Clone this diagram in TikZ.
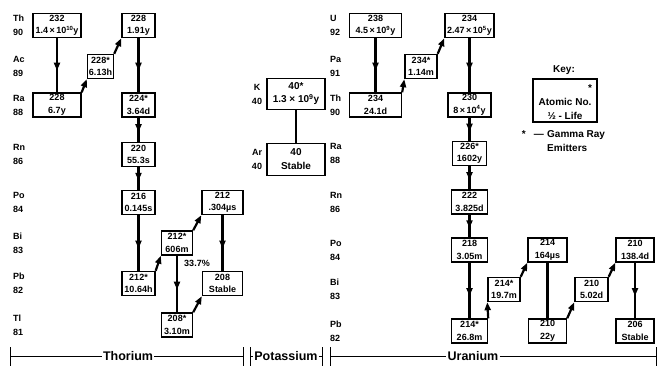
\documentclass[tikz,border=0pt]{standalone}
\usepackage{fontspec}
\setmainfont{Liberation Sans}
\usetikzlibrary{arrows.meta}
\usetikzlibrary{decorations.markings}

\tikzset{
  iso/.style={draw, line width=1.4pt, minimum height=24pt, inner xsep=1pt, inner ysep=1pt, align=center, font=\bfseries\fontsize{9}{12.5}\selectfont},
  elem/.style={anchor=west, align=left, inner sep=0pt, font=\bfseries\fontsize{9}{14}\selectfont},
  keytext/.style={inner sep=0pt, font=\bfseries\fontsize{10}{13.5}\selectfont},
  bartext/.style={inner sep=1pt, font=\bfseries\fontsize{12.5}{14}\selectfont},
  beta/.style={line width=2.2pt, -{Triangle[length=8pt,width=6pt]}},
  alpha/.style={line width=2.2pt, decoration={markings, mark=at position 0.6 with {\arrow{Triangle[length=8pt,width=6pt]}}}, postaction={decorate}},
  link/.style={line width=2.2pt},
  barline/.style={line width=1pt},
}

\begin{document}
\begin{tikzpicture}[x=1pt, y=-1pt]
    \useasboundingbox (0,0) rectangle (663,366);
    % element labels
    \foreach \y/\el/\z in {25.5/Th/90, 66.5/Ac/89, 105/Ra/88, 154.5/Rn/86, 202.5/Po/84, 243/Bi/83, 283.5/Pb/82, 325/Tl/81}
        \node[elem] (thor-\z) at (13,\y) {\el\\\z};
    \foreach \y/\el/\z in {25.5/U/92, 66.5/Pa/91, 105/Th/90, 153.5/Ra/88, 202/Rn/86, 250/Po/84, 289.5/Bi/83, 331/Pb/82}
        \node[elem] (uran-\z) at (330,\y) {\el\\\z};
    \node[elem, anchor=center, align=center] (kal) at (257,94) {K\\40};
    \node[elem, anchor=center, align=center] (arl) at (257,159.5) {Ar\\40};

    % thorium series
    \node[iso, minimum width=48pt] (th232) at (57,25.5) {232\\1.4\,×\,10\textsuperscript{10}y};
    \node[iso, minimum width=26pt] (ac228) at (100.5,66.5) {228*\\6.13h};
    \node[iso, minimum width=33pt] (th228) at (138.5,25.5) {228\\1.91y};
    \node[iso, minimum width=48pt] (ra228) at (57,105) {228\\6.7y};
    \node[iso, minimum width=33pt] (ra224) at (138.5,105) {224*\\3.64d};
    \node[iso, minimum width=33pt] (rn220) at (138.5,154.5) {220\\55.3s};
    \node[iso, minimum width=33pt] (po216) at (138.5,202.5) {216\\0.145s};
    \node[iso, minimum width=33pt] (pb212) at (138.5,283.5) {212*\\10.64h};
    \node[iso, minimum width=31pt] (bi212) at (177,243) {212*\\606m};
    \node[iso, minimum width=41pt] (po212) at (222.5,202.5) {212\\.304µs};
    \node[iso, minimum width=40pt] (pb208) at (222.5,283.5) {208\\Stable};
    \node[iso, minimum width=31pt] (tl208) at (177,325) {208*\\3.10m};
    \node[elem, anchor=center] (branch) at (197,263) {33.7\%};

    \draw[alpha] (th232) -- (ra228);
    \draw[beta] (ra228.north east) -- (ac228.south west);
    \draw[beta] (ac228.north east) -- (th228.south west);
    \draw[alpha] (th228) -- (ra224);
    \draw[alpha] (ra224) -- (rn220);
    \draw[alpha] (rn220) -- (po216);
    \draw[alpha] (po216) -- (pb212);
    \draw[beta] (pb212.north east) -- (bi212.south west);
    \draw[beta] (bi212.north east) -- (po212.south west);
    \draw[alpha] (po212) -- (pb208);
    \draw[alpha] (bi212) -- (tl208);
    \draw[beta] (tl208.north east) -- (pb208.south west);

    % potassium
    \node[iso, minimum width=58pt, minimum height=31pt, font=\bfseries\fontsize{10}{13}\selectfont] (k40) at (296,94) {40*\\1.3 × 10\textsuperscript{9}y};
    \node[iso, minimum width=58pt, minimum height=32pt, font=\bfseries\fontsize{10}{14}\selectfont] (ar40) at (296,159.5) {40\\Stable};
    \draw[link] (k40) -- (ar40);

    % uranium series
    \node[iso, minimum width=52pt] (u238) at (375.5,25.5) {238\\4.5\,×\,10\textsuperscript{9}y};
    \node[iso, minimum width=32pt] (pa234) at (421,66.5) {234*\\1.14m};
    \node[iso, minimum width=49pt] (u234) at (469.5,25.5) {234\\2.47\,×\,10\textsuperscript{5}y};
    \node[iso, minimum width=52pt] (th234) at (375.5,105) {234\\24.1d};
    \node[iso, minimum width=43pt] (th230) at (469.5,105) {230\\8\,×\,10\textsuperscript{4}y};
    \node[iso, minimum width=34pt] (ra226) at (469.5,153.5) {226*\\1602y};
    \node[iso, minimum width=36pt] (rn222) at (469.5,202) {222\\3.825d};
    \node[iso, minimum width=36pt] (po218) at (469.5,250) {218\\3.05m};
    \node[iso, minimum width=36pt] (pb214) at (469.5,331) {214*\\26.8m};
    \node[iso, minimum width=32pt] (bi214) at (504,289.5) {214*\\19.7m};
    \node[iso, minimum width=39pt] (po214) at (547.5,250) {214\\164µs};
    \node[iso, minimum width=38pt] (pb210) at (547.5,331) {210\\22y};
    \node[iso, minimum width=33pt] (bi210) at (591.5,289.5) {210\\5.02d};
    \node[iso, minimum width=38pt] (po210) at (635,250) {210\\138.4d};
    \node[iso, minimum width=38pt] (pb206) at (635,331) {206\\Stable};

    \draw[alpha] (u238) -- (th234);
    \draw[beta] (th234.north east) -- (pa234.south west);
    \draw[beta] (pa234.north east) -- (u234.south west);
    \draw[alpha] (u234) -- (th230);
    \draw[alpha] (th230) -- (ra226);
    \draw[alpha] (ra226) -- (rn222);
    \draw[alpha] (rn222) -- (po218);
    \draw[alpha] (po218) -- (pb214);
    \draw[beta] (pb214.north east) -- (bi214.south west);
    \draw[beta] (bi214.north east) -- (po214.south west);
    \draw[link] (po214) -- (pb210);
    \draw[beta] (pb210.north east) -- (bi210.south west);
    \draw[beta] (bi210.north east) -- (po210.south west);
    \draw[alpha] (po210) -- (pb206);

    % key
    \node[keytext] (keyhead) at (564,70) {Key:};
    \node[draw, line width=1.4pt, minimum width=64pt, minimum height=43pt] (keybox) at (565,100.5) {};
    \node[keytext] (keystar) at (590,88) {*};
    \node[keytext] (keyatom) at (565,102) {Atomic No.};
    \node[keytext] (keylife) at (565,115.5) {½ - Life};
    \node[keytext, anchor=west, align=left] (keygamma) at (547,141) {Gamma Ray\\Emitters};
    \node[keytext, anchor=east] (keydash) at (544,134) {*\hspace{8pt}—};

    % bottom bar
    \coordinate (thl) at (10,356);
    \coordinate (thr) at (243,356);
    \coordinate (kal-end) at (250,356);
    \coordinate (kar-end) at (322,356);
    \coordinate (url) at (330,356);
    \coordinate (urr) at (656,356);
    \node[bartext] (thor) at (128,356) {Thorium};
    \node[bartext] (pota) at (286,356) {Potassium};
    \node[bartext] (uran) at (473,356) {Uranium};
    \draw[barline] (thl) -- (thor.west) (thor.east) -- (thr);
    \draw[barline] (kal-end) -- (pota.west) (pota.east) -- (kar-end);
    \draw[barline] (url) -- (uran.west) (uran.east) -- (urr);
    \foreach \c in {thl, thr, kal-end, kar-end, url, urr}
        \draw[barline] ([yshift=9pt]\c) -- ([yshift=-10pt]\c);
\end{tikzpicture}
\end{document}
